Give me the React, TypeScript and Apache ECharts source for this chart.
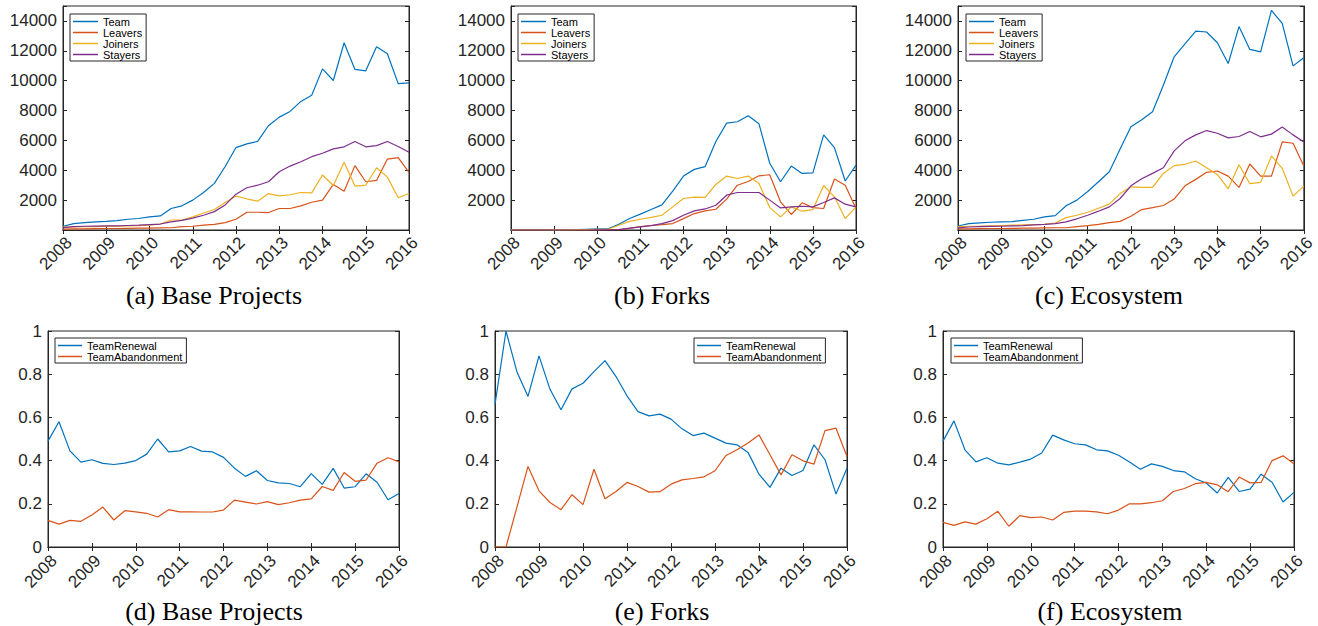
import React, { useEffect, useRef } from "react";
import * as echarts from "echarts";

// Quarterly time points
const quarters = [
  2008, 2008.25, 2008.5, 2008.75, 2009, 2009.25, 2009.5, 2009.75,
  2010, 2010.25, 2010.5, 2010.75, 2011, 2011.25, 2011.5, 2011.75,
  2012, 2012.25, 2012.5, 2012.75, 2013, 2013.25, 2013.5, 2013.75,
  2014, 2014.25, 2014.5, 2014.75, 2015, 2015.25, 2015.5, 2015.75, 2016,
];

// (a) Base Projects
const teamBase = [250, 430, 500, 540, 580, 630, 720, 770, 880, 940, 1440, 1620, 2000, 2510, 3120, 4250, 5520, 5770, 5930, 6980, 7560, 7940, 8610, 9020, 10790, 10010, 12540, 10750, 10660, 12270, 11800, 9800, 9850];
const leaversBase = [60, 70, 80, 90, 100, 100, 110, 120, 130, 140, 150, 230, 250, 320, 380, 490, 720, 1190, 1190, 1170, 1440, 1440, 1620, 1860, 2000, 3050, 2600, 4310, 3230, 3320, 4750, 4850, 3860];
const joinersBase = [200, 210, 220, 230, 240, 250, 270, 290, 320, 400, 670, 670, 880, 1140, 1370, 1840, 2270, 2090, 1930, 2440, 2290, 2360, 2510, 2490, 3680, 2980, 4530, 2940, 3000, 4170, 3540, 2160, 2440];
const stayersBase = [160, 230, 250, 260, 270, 270, 300, 320, 360, 400, 540, 650, 790, 990, 1230, 1680, 2400, 2830, 3000, 3230, 3900, 4280, 4570, 4910, 5140, 5430, 5570, 5930, 5570, 5650, 5930, 5590, 5210];

// (b) Forks
const teamForks = [0, 0, 0, 0, 10, 20, 20, 50, 70, 80, 380, 770, 1060, 1370, 1680, 2600, 3610, 4060, 4240, 5930, 7160, 7250, 7650, 7110, 4470, 3230, 4280, 3790, 3830, 6370, 5520, 3280, 4350];
const leaversForks = [0, 0, 0, 0, 0, 0, 0, 0, 10, 20, 30, 100, 230, 300, 360, 430, 760, 1100, 1280, 1390, 2070, 3000, 3250, 3630, 3700, 1890, 1040, 1820, 1500, 1440, 3410, 3000, 1440];
const joinersForks = [0, 0, 0, 0, 10, 10, 20, 30, 40, 50, 320, 580, 720, 850, 990, 1550, 2110, 2200, 2180, 3050, 3610, 3450, 3610, 3120, 1500, 880, 1550, 1260, 1370, 2980, 2220, 760, 1550];
const stayersForks = [0, 0, 0, 0, 0, 0, 0, 0, 10, 10, 20, 120, 210, 290, 430, 630, 990, 1280, 1410, 1660, 2330, 2510, 2510, 2510, 2000, 1480, 1550, 1590, 1550, 1840, 2150, 1730, 1550];

// (c) Ecosystem
const teamEco = [270, 430, 480, 520, 540, 560, 650, 720, 880, 960, 1620, 2000, 2580, 3230, 3900, 5430, 6910, 7380, 7920, 9690, 11600, 12470, 13320, 13260, 12540, 11150, 13620, 12090, 11930, 14710, 13840, 10990, 11530];
const leaversEco = [70, 80, 90, 100, 100, 110, 120, 130, 140, 150, 150, 230, 290, 380, 490, 580, 920, 1370, 1500, 1640, 2070, 2960, 3390, 3860, 3950, 3610, 2850, 4420, 3610, 3610, 5900, 5810, 4280];
const joinersEco = [230, 250, 260, 280, 300, 320, 340, 360, 380, 470, 830, 990, 1190, 1460, 1730, 2440, 2890, 2850, 2850, 3790, 4310, 4400, 4620, 4170, 3720, 2760, 4370, 3100, 3190, 4960, 4130, 2270, 2940];
const stayersEco = [140, 200, 230, 240, 250, 270, 290, 340, 380, 430, 540, 750, 990, 1260, 1550, 2110, 2960, 3430, 3790, 4170, 5300, 5970, 6370, 6660, 6480, 6170, 6260, 6600, 6240, 6420, 6890, 6370, 5900];

// (d) Base Projects ratios
const renewalBase = [0.49, 0.58, 0.445, 0.393, 0.404, 0.387, 0.382, 0.388, 0.40, 0.43, 0.50, 0.44, 0.445, 0.465, 0.444, 0.44, 0.415, 0.365, 0.327, 0.353, 0.308, 0.297, 0.294, 0.279, 0.34, 0.29, 0.364, 0.273, 0.279, 0.339, 0.30, 0.219, 0.248];
const abandonBase = [0.123, 0.106, 0.123, 0.119, 0.148, 0.185, 0.125, 0.168, 0.163, 0.156, 0.139, 0.173, 0.163, 0.163, 0.162, 0.162, 0.171, 0.217, 0.208, 0.199, 0.21, 0.196, 0.205, 0.217, 0.223, 0.28, 0.262, 0.345, 0.304, 0.31, 0.388, 0.413, 0.394];

// (e) Forks ratios
const renewalForks = [0.66, 1.0, 0.81, 0.697, 0.885, 0.73, 0.635, 0.732, 0.758, 0.812, 0.863, 0.789, 0.70, 0.627, 0.607, 0.615, 0.592, 0.547, 0.516, 0.527, 0.504, 0.481, 0.473, 0.438, 0.337, 0.276, 0.365, 0.331, 0.354, 0.473, 0.404, 0.245, 0.365];
const abandonForks = [0, 0, 0.186, 0.373, 0.26, 0.206, 0.173, 0.242, 0.196, 0.36, 0.223, 0.257, 0.299, 0.28, 0.254, 0.256, 0.291, 0.311, 0.317, 0.325, 0.353, 0.424, 0.45, 0.481, 0.519, 0.427, 0.334, 0.427, 0.399, 0.384, 0.539, 0.55, 0.419];

// (f) Ecosystem ratios
const renewalEco = [0.49, 0.584, 0.45, 0.394, 0.413, 0.388, 0.38, 0.393, 0.407, 0.435, 0.518, 0.496, 0.478, 0.473, 0.45, 0.445, 0.425, 0.393, 0.36, 0.385, 0.373, 0.354, 0.348, 0.316, 0.296, 0.25, 0.322, 0.257, 0.268, 0.337, 0.30, 0.208, 0.253];
const abandonEco = [0.114, 0.10, 0.116, 0.106, 0.131, 0.165, 0.096, 0.145, 0.136, 0.139, 0.125, 0.16, 0.166, 0.166, 0.163, 0.154, 0.171, 0.20, 0.20, 0.205, 0.214, 0.257, 0.271, 0.293, 0.299, 0.288, 0.256, 0.324, 0.297, 0.299, 0.40, 0.422, 0.385];

const countNames = ["Team", "Leavers", "Joiners", "Stayers"];
const ratioNames = ["TeamRenewal", "TeamAbandonment"];
const captions = ["(a) Base Projects", "(b) Forks", "(c) Ecosystem", "(d) Base Projects", "(e) Forks", "(f) Ecosystem"];

const COLORS: Record<string, string> = {
  Team: "#0072BD",
  Leavers: "#D95319",
  Joiners: "#EDB120",
  Stayers: "#7E2F8E",
  TeamRenewal: "#0072BD",
  TeamAbandonment: "#D95319",
};

const SANS = '"Liberation Sans", Arial, Helvetica, sans-serif';
const SERIF = '"Liberation Serif", "Times New Roman", serif';
const AX = "#262626";

type Panel = {
  grid: { left: number; top: number; width: number; height: number };
  ratio: boolean;
  names: string[];
  values: number[][];
  legend: { left: number; top: number };
  cap: { x: number; y: number };
};

const panels: Panel[] = [
  { grid: { left: 63, top: 6, width: 346, height: 224 }, ratio: false, names: countNames, values: [teamBase, leaversBase, joinersBase, stayersBase], legend: { left: 70, top: 14 }, cap: { x: 214, y: 295 } },
  { grid: { left: 511, top: 6, width: 345, height: 224 }, ratio: false, names: countNames, values: [teamForks, leaversForks, joinersForks, stayersForks], legend: { left: 518, top: 14 }, cap: { x: 662, y: 295 } },
  { grid: { left: 958, top: 6, width: 346, height: 224 }, ratio: false, names: countNames, values: [teamEco, leaversEco, joinersEco, stayersEco], legend: { left: 966, top: 14 }, cap: { x: 1109, y: 295 } },
  { grid: { left: 48, top: 331, width: 351, height: 216 }, ratio: true, names: ratioNames, values: [renewalBase, abandonBase], legend: { left: 55, top: 338 }, cap: { x: 214, y: 611 } },
  { grid: { left: 495, top: 331, width: 352, height: 216 }, ratio: true, names: ratioNames, values: [renewalForks, abandonForks], legend: { left: 694, top: 338 }, cap: { x: 662, y: 611 } },
  { grid: { left: 943, top: 331, width: 351, height: 216 }, ratio: true, names: ratioNames, values: [renewalEco, abandonEco], legend: { left: 951, top: 338 }, cap: { x: 1110, y: 611 } },
];

function buildOption() {
  const grid: any[] = [];
  const xAxis: any[] = [];
  const yAxis: any[] = [];
  const series: any[] = [];
  const legend: any[] = [];
  const graphic: any[] = [];

  const tick = { show: true, inside: true, length: 4, lineStyle: { color: AX, width: 1 } };
  const line = { show: true, lineStyle: { color: AX, width: 1 } };

  panels.forEach((p, i) => {
    grid.push({ ...p.grid, show: true, borderColor: AX, borderWidth: 1, backgroundColor: "#fff", containLabel: false });
    xAxis.push({
      type: "value", gridIndex: i, min: 2008, max: 2016, interval: 1, position: "bottom",
      splitLine: { show: false }, axisTick: tick, axisLine: line,
      axisLabel: {
        show: true, rotate: 45, margin: p.ratio ? 5 : 4, align: "right", verticalAlign: "top",
        fontSize: 17, fontFamily: SANS, color: AX,
        formatter: (v: number) => String(v), showMinLabel: true, showMaxLabel: true,
      },
    });
    const yBase = p.ratio
      ? { type: "value", gridIndex: i, min: 0, max: 1, interval: 0.2 }
      : { type: "value", gridIndex: i, min: 0, max: 15000, interval: 2000 };
    yAxis.push({
      ...yBase, position: "left", splitLine: { show: false }, axisTick: tick, axisLine: line,
      axisLabel: {
        show: true, margin: 6, fontSize: 17, fontFamily: SANS, color: AX,
        formatter: p.ratio
          ? (v: number) => String(Math.round(v * 10) / 10)
          : (v: number) => (v === 0 || v > 14000 ? "" : String(v)),
      },
    });
    p.names.forEach((name, k) => {
      series.push({
        type: "line", name, xAxisIndex: i, yAxisIndex: i, symbol: "none", showSymbol: false,
        data: quarters.map((q, j) => [q, p.values[k][j]]),
        lineStyle: { color: COLORS[name], width: 1.2 }, itemStyle: { color: COLORS[name] },
        z: 3,
      });
    });
    legend.push({
      show: true, orient: "vertical", left: p.legend.left, top: p.legend.top, selectedMode: false,
      data: p.names.map((n) => ({ name: n, icon: "rect" })),
      itemWidth: p.ratio ? 24 : 25, itemHeight: 1.5, itemGap: 0,
      padding: [2, 4, 1, 3], borderColor: AX, borderWidth: 1, backgroundColor: "#fff",
      textStyle: { fontSize: 11, fontFamily: SANS, color: "#000", lineHeight: 11 },
      z: 10,
    });
    graphic.push({
      type: "text", x: p.cap.x, y: p.cap.y,
      style: { text: captions[i], fontSize: 26, fontFamily: SERIF, fill: "#000", align: "center", verticalAlign: "middle" },
    });
  });

  // mirrored ticks (top & right) like a MATLAB box
  panels.forEach((p, i) => {
    xAxis.push({
      type: "value", gridIndex: i, min: 2008, max: 2016, interval: 1, position: "top",
      splitLine: { show: false }, axisTick: tick, axisLine: line, axisLabel: { show: false },
    });
    const yBase = p.ratio
      ? { type: "value", gridIndex: i, min: 0, max: 1, interval: 0.2 }
      : { type: "value", gridIndex: i, min: 0, max: 15000, interval: 2000 };
    yAxis.push({
      ...yBase, position: "right", splitLine: { show: false }, axisTick: tick, axisLine: line, axisLabel: { show: false },
    });
  });

  return { animation: false, backgroundColor: "#fff", grid, xAxis, yAxis, series, legend, graphic };
}

export default function App() {
  const ref = useRef<HTMLDivElement>(null);
  useEffect(() => {
    if (!ref.current) return;
    const chart = echarts.init(ref.current, undefined, { renderer: "svg" });
    chart.setOption(buildOption() as any);
    return () => chart.dispose();
  }, []);
  return (
    <div
      ref={ref}
      style={{ position: "fixed", left: 0, top: 0, width: 1318, height: 626, background: "#fff" }}
    />
  );
}
